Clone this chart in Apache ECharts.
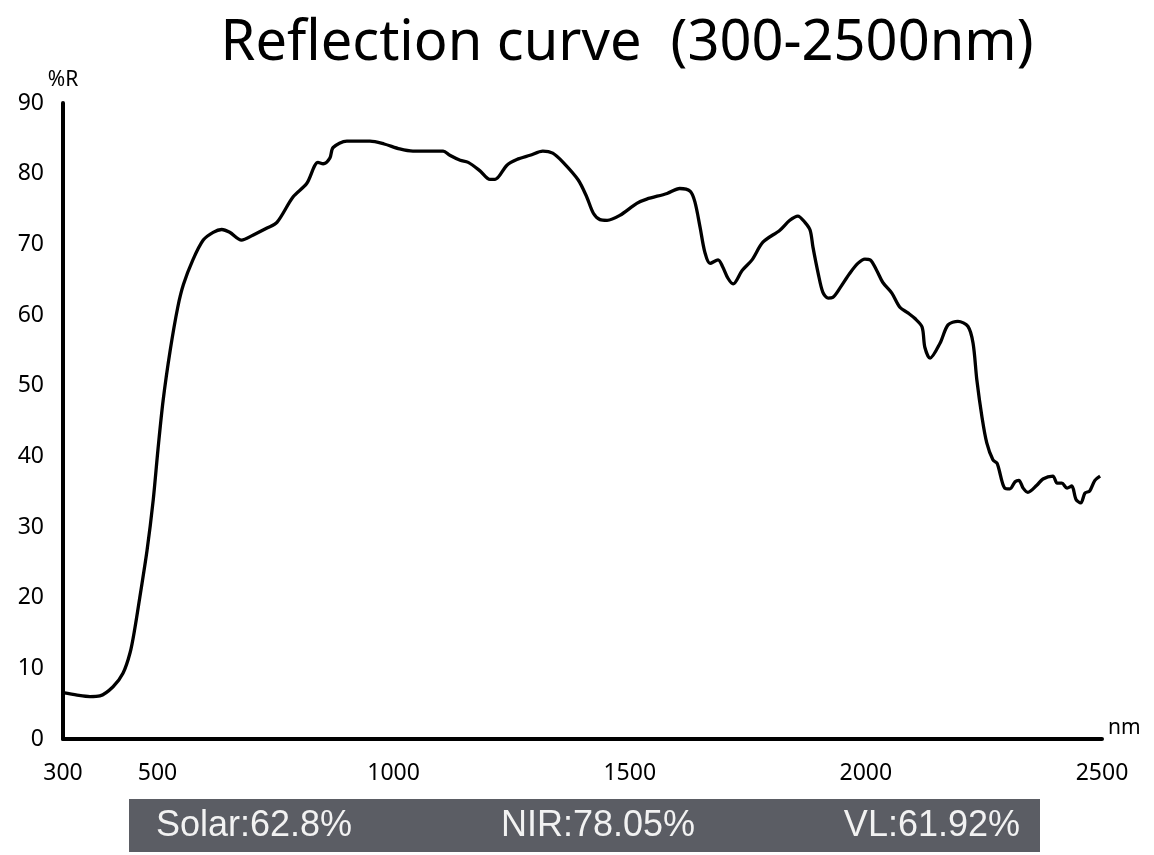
<!DOCTYPE html>
<html lang="en" style="height: 100%">
<head>
  <meta charset="utf-8">
</head>
<body style="height: 100%; margin: 0; background: #fff">
  <div id="container" style="height: 100%"></div>

  <script type="text/javascript" src="https://cdn.jsdelivr.net/npm/echarts@6.0.0/dist/echarts.min.js"></script>

  <script type="text/javascript">
    // wavelength (nm) and reflectance (%R)
    var wavelength = [
      300, 330, 357, 378, 406, 427, 442, 452, 463, 478, 491, 501, 512, 527, 543, 555, 575, 597,
      618, 636, 653, 678, 702, 732, 753, 787, 816, 840, 851, 865, 872, 901, 950, 980, 1013, 1041,
      1105, 1119, 1141, 1158, 1183, 1204, 1215, 1240, 1261, 1289, 1316, 1337, 1359, 1391, 1409,
      1423, 1437, 1452, 1479, 1515, 1536, 1579, 1606, 1628, 1638, 1649, 1659, 1670, 1687, 1697,
      1708, 1719, 1738, 1759, 1782, 1818, 1839, 1856, 1871, 1882, 1888, 1899, 1909, 1920, 1930,
      1945, 1966, 1983, 1998, 2009, 2023, 2036, 2055, 2072, 2089, 2104, 2119, 2125, 2136, 2157,
      2174, 2195, 2216, 2227, 2235, 2246, 2256, 2269, 2278, 2294, 2305, 2316, 2324, 2333, 2343,
      2362, 2375, 2396, 2405, 2415, 2426, 2436, 2445, 2455, 2464, 2474, 2485, 2496
    ];
    var reflectance = [
      6.55, 6.2, 6.0, 6.1, 7.4, 9.3, 12.2, 15.6, 20.2, 26.7, 33.8, 40.9, 47.9, 55, 61.1, 64.3, 67.8, 70.6,
      71.7, 72.1, 71.7, 70.6, 71.3, 72.3, 73.1, 76.7, 78.6, 81.6, 81.4, 82.2, 83.7, 84.6, 84.6, 84.2, 83.5, 83.2,
      83.2, 82.6, 81.9, 81.6, 80.4, 79.2, 79.2, 81.2, 82, 82.6, 83.2, 82.9, 81.6, 79.1, 76.7,
      74.4, 73.5, 73.4, 74.1, 75.8, 76.4, 77.2, 77.9, 77.5, 76, 72.4, 68.9, 67.3, 67.8, 66.8,
      65.2, 64.4, 66.3, 67.8, 70.3, 72, 73.4, 74, 73.1, 72, 69.6, 65.9, 63.2, 62.4, 62.5,
      63.8, 65.9, 67.3, 67.9, 67.8, 66.3, 64.6, 63.1, 61.1, 60.3, 59.5, 58.3, 55.4, 53.9, 56,
      58.6, 59.1, 58.4, 56, 50.8, 45.5, 41.9, 39.5, 39, 35.5, 35.4, 36.4, 36.6, 35.5, 34.9,
      35.9, 36.8, 37.2, 36.2, 36.2, 35.5, 35.8, 33.9, 33.4, 34.8, 35.1, 36.6, 37.2
    ];
    var xTickLabels = [300, 500, 1000, 1500, 2000, 2500];
    var summary = ['Solar:62.8%', 'NIR:78.05%', 'VL:61.92%'];

    var dom = document.getElementById('container');
    var myChart = echarts.init(dom, null, { renderer: 'canvas' });

    var points = wavelength.map(function (w, i) {
      return [w, reflectance[i]];
    });

    var option = {
      animation: false,
      title: {
        text: 'Reflection curve\u00a0\u00a0(300-2500nm)',
        left: 622,
        textAlign: 'center',
        top: 11,
        textStyle: {
          fontFamily: 'Noto Sans',
          fontWeight: 'normal',
          fontSize: 56,
          color: '#000'
        }
      },
      grid: {
        left: 63,
        right: 52,
        top: 103,
        bottom: 116,
        containLabel: false
      },
      xAxis: {
        type: 'value',
        min: 300,
        max: 2500,
        interval: 100,
        name: 'nm',
        nameLocation: 'end',
        nameGap: 6,
        nameTextStyle: { fontFamily: 'Noto Sans', fontSize: 21, color: '#000', verticalAlign: 'bottom' },
        axisLine: { show: true, onZero: false, lineStyle: { color: '#000', width: 4 } },
        axisTick: { show: false },
        splitLine: { show: false },
        axisLabel: {
          margin: 23,
          fontFamily: 'Noto Sans',
          fontSize: 23,
          color: '#000',
          showMinLabel: true,
          showMaxLabel: true,
          formatter: function (v) {
            return xTickLabels.indexOf(v) >= 0 ? String(v) : '';
          }
        }
      },
      yAxis: {
        type: 'value',
        min: 0,
        max: 90,
        interval: 10,
        name: '%R',
        nameLocation: 'end',
        nameGap: 12,
        nameTextStyle: { fontFamily: 'Noto Sans', fontSize: 21, color: '#000' },
        axisLine: { show: true, lineStyle: { color: '#000', width: 4 } },
        axisTick: { show: false },
        splitLine: { show: false },
        axisLabel: {
          margin: 19,
          fontFamily: 'Noto Sans',
          fontSize: 23,
          color: '#000'
        }
      },
      series: [
        {
          type: 'line',
          data: points,
          showSymbol: false,
          smooth: 0.3,
          lineStyle: { color: '#000', width: 3.3 }
        }
      ],
      graphic: [
        {
          type: 'rect',
          shape: { x: 129, y: 799, width: 911, height: 53 },
          style: { fill: '#5b5d64' }
        },
        {
          type: 'text',
          x: 156,
          y: 826,
          style: {
            text: summary[0],
            font: '36px "Liberation Sans", Arial, sans-serif',
            fill: '#f2f2f2',
            textAlign: 'left',
            textVerticalAlign: 'middle'
          }
        },
        {
          type: 'text',
          x: 598,
          y: 826,
          style: {
            text: summary[1],
            font: '36px "Liberation Sans", Arial, sans-serif',
            fill: '#f2f2f2',
            textAlign: 'center',
            textVerticalAlign: 'middle'
          }
        },
        {
          type: 'text',
          x: 1020,
          y: 826,
          style: {
            text: summary[2],
            font: '36px "Liberation Sans", Arial, sans-serif',
            fill: '#f2f2f2',
            textAlign: 'right',
            textVerticalAlign: 'middle'
          }
        }
      ]
    };

    myChart.setOption(option);
    window.addEventListener('resize', myChart.resize);
  </script>
</body>
</html>
